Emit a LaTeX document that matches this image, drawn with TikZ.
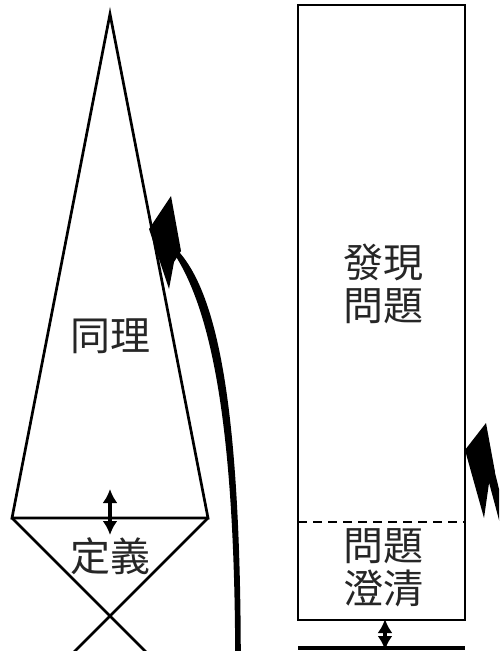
\documentclass[tikz,border=0pt]{standalone}
\usepackage{fontspec}
\usepackage{tikz}
\usetikzlibrary{arrows.meta}
\newfontfamily\cjkfont{Noto Sans CJK TC}

\tikzset{
  label/.style={font=\cjkfont\fontsize{40}{43}\selectfont,align=center,text=black!85,inner sep=0pt},
  thin line/.style={line width=2.7pt},
  dbl arrow/.style={line width=3.2pt,{Latex[length=14pt,width=15pt]}-{Latex[length=14pt,width=15pt]}},
}

\begin{document}
\begin{tikzpicture}[x=1pt,y=-1pt]
\clip (0,0) rectangle (499,651);
\fill[white] (0,0) rectangle (499,651);

% kite
\coordinate (top) at (110,14);
\coordinate (kl) at (12,518);
\coordinate (kr) at (208,518);
\coordinate (xl) at (160,666);
\coordinate (xr) at (60,666);
\draw[thin line,line join=miter] (top) -- (kl) -- (kr) -- cycle;
\draw[thin line] (kl) -- (xl);
\draw[thin line] (kr) -- (xr);

\node[label] (tongli) at (110,336) {同理};
\node[label] (dingyi) at (110,556) {定義};
\coordinate (d1) at (110,489);
\coordinate (d2) at (110,535);
\draw[dbl arrow] (d1) -- (d2);

% box
\coordinate (b1) at (298,5);
\coordinate (b2) at (465,620);
\coordinate (dl) at (298,522);
\coordinate (dr) at (465,522);
\draw[thin line] (b1) rectangle (b2);
\draw[thin line,dashed,dash pattern=on 9pt off 6pt] (dl) -- (dr);
\node[label] (faxian) at (383,284) {發現\\問題};
\node[label] (chengqing) at (383,568) {問題\\澄清};

\coordinate (g1) at (298,648);
\coordinate (g2) at (465,648);
\draw[line width=3.4pt] (g1) -- (g2);
\coordinate (e1) at (385,619);
\coordinate (e2) at (385,650);
\draw[dbl arrow] (e1) -- (e2);

% curved arrows (tapered shaft + head)
\coordinate (s1) at (238,665);
\coordinate (s1end) at (174,248);
\fill (s1) ++(-2.8,0) .. controls (235.2,420) and (210,300) .. (168,245)
  -- (180,253) .. controls (220,300) and (240.8,420) .. (240.8,665) -- cycle;
\fill (171,196) -- (149,229) -- (169,289) -- (174,262) -- (181,251) -- cycle;

\coordinate (s2) at (525,610);
\coordinate (s2end) at (488,465);
\fill (s2) ++(-3,0) .. controls (507,550) and (494,500) .. (483,461)
  -- (494,469) .. controls (502,500) and (513,550) .. (528,610) -- cycle;
\fill (486,423) -- (465,450) -- (484,518) -- (489,483) -- (495,472) -- cycle;
\end{tikzpicture}
\end{document}
